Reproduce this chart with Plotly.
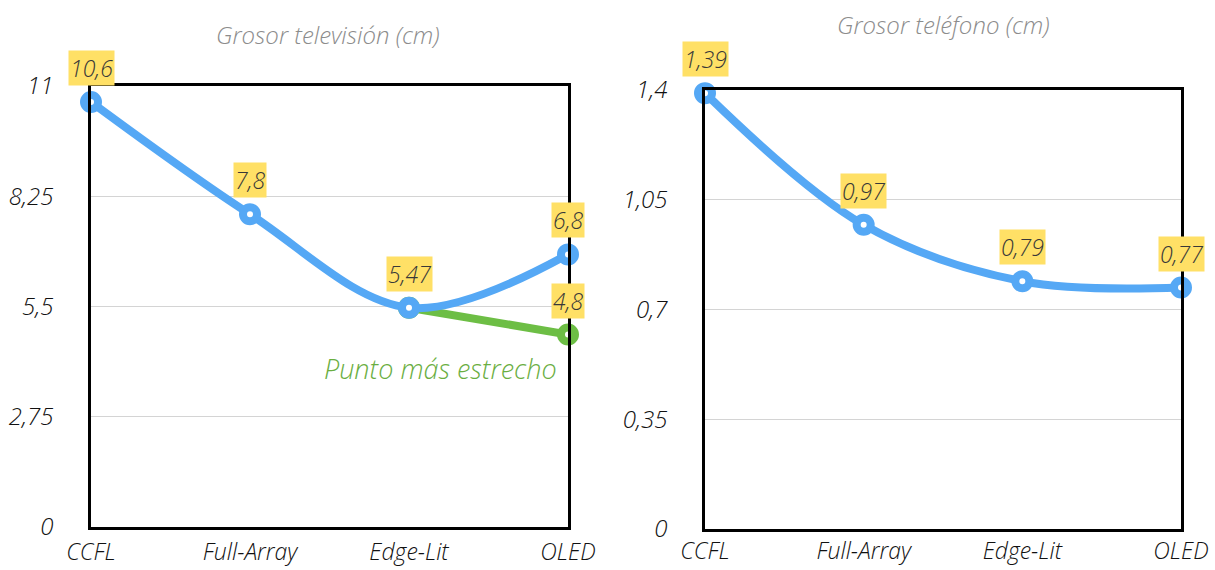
import plotly.graph_objects as go

categories = ["CCFL", "Full-Array", "Edge-Lit", "OLED"]
tv_thickness = [10.6, 7.8, 5.47, 6.8]
tv_narrowest_x = ["Edge-Lit", "OLED"]
tv_narrowest = [5.47, 4.8]
phone_thickness = [1.39, 0.97, 0.79, 0.77]
tv_ticks = [0, 2.75, 5.5, 8.25, 11]
tv_tick_text = ["0", "2,75", "5,5", "8,25", "11"]
phone_ticks = [0, 0.35, 0.7, 1.05, 1.4]
phone_tick_text = ["0", "0,35", "0,7", "1,05", "1,4"]

BLUE = "#55A8F5"
GREEN = "#6DBE45"
FONT = "Open Sans"

xpos = {c: i for i, c in enumerate(categories)}


def fmt(v):
    return f"{v:g}".replace(".", ",")


fig = go.Figure()

# green "narrowest" segment (TV)
fig.add_trace(go.Scatter(
    x=[xpos[c] for c in tv_narrowest_x], y=tv_narrowest, mode="lines+markers",
    line=dict(color=GREEN, width=8),
    marker=dict(size=14, color="white", line=dict(color=GREEN, width=8)),
    cliponaxis=False, xaxis="x", yaxis="y", hoverinfo="skip"))

# TV thickness curve
fig.add_trace(go.Scatter(
    x=list(range(len(categories))), y=tv_thickness, mode="lines+markers",
    line=dict(color=BLUE, width=8, shape="spline", smoothing=1.0),
    marker=dict(size=14, color="white", line=dict(color=BLUE, width=8)),
    cliponaxis=False, xaxis="x", yaxis="y"))

# Phone thickness curve
fig.add_trace(go.Scatter(
    x=list(range(len(categories))), y=phone_thickness, mode="lines+markers",
    line=dict(color=BLUE, width=8, shape="spline", smoothing=1.0),
    marker=dict(size=14, color="white", line=dict(color=BLUE, width=8)),
    cliponaxis=False, xaxis="x2", yaxis="y2"))

label_style = dict(showarrow=False, bgcolor="#FFE066", borderpad=1,
                   xanchor="center", yanchor="middle",
                   font=dict(family=FONT, size=23, color="#383838", style="italic", weight=300),
                   yshift=34)

annotations = []
for i, v in enumerate(tv_thickness):
    annotations.append(dict(x=i, y=v, xref="x", yref="y", text=fmt(v), **label_style))
annotations.append(dict(x=xpos[tv_narrowest_x[-1]], y=tv_narrowest[-1], xref="x", yref="y",
                        text=fmt(tv_narrowest[-1]), **label_style))
for i, v in enumerate(phone_thickness):
    annotations.append(dict(x=i, y=v, xref="x2", yref="y2", text=fmt(v), **label_style))

annotations.append(dict(x=xpos["Edge-Lit"] + 0.2, y=3.95, xref="x", yref="y",
                        text="Punto más estrecho", showarrow=False,
                        xanchor="center", yanchor="middle",
                        font=dict(family=FONT, size=27, color="#6AAE3F", style="italic", weight=300)))

title_font = dict(family=FONT, size=24, color="#8c8c8c", style="italic", weight=300)
annotations.append(dict(x=328 / 1215, y=1 - 35 / 570, xref="paper", yref="paper",
                        xanchor="center", yanchor="middle",
                        text="Grosor televisión (cm)", showarrow=False, font=title_font))
annotations.append(dict(x=943 / 1215, y=1 - 24 / 570, xref="paper", yref="paper",
                        xanchor="center", yanchor="middle",
                        text="Grosor teléfono (cm)", showarrow=False, font=title_font))

tick_font = dict(family=FONT, size=24, color="#111111", style="italic", weight=300)
xtick_font = dict(family=FONT, size=23, color="#111111", style="italic", weight=300)
xaxis_common = dict(range=[0, 3], tickvals=list(range(len(categories))), ticktext=categories,
                    showgrid=False, zeroline=False, showline=True, linecolor="black",
                    linewidth=2.5, mirror=True, ticks="", tickfont=xtick_font,
                    automargin=False, fixedrange=True)
yaxis_common = dict(showgrid=True, gridcolor="#d4d4d4", gridwidth=1, zeroline=False,
                    showline=True, linecolor="black", linewidth=2.5, mirror=True,
                    ticks="", tickfont=tick_font, ticklabelstandoff=30,
                    automargin=False, fixedrange=True)

fig.update_layout(
    width=1215, height=570, margin=dict(l=0, r=0, t=0, b=0),
    paper_bgcolor="white", plot_bgcolor="white", showlegend=False,
    xaxis=dict(domain=[91 / 1215, 568 / 1215], anchor="y", ticklabelstandoff=3,
               **xaxis_common),
    yaxis=dict(domain=[1 - 527 / 570, 1 - 86 / 570], anchor="x", range=[0, 11],
               tickvals=tv_ticks, ticktext=tv_tick_text, **yaxis_common),
    xaxis2=dict(domain=[705 / 1215, 1181 / 1215], anchor="y2", ticklabelstandoff=0,
                **xaxis_common),
    yaxis2=dict(domain=[1 - 529 / 570, 1 - 90 / 570], anchor="x2", range=[0, 1.4],
                tickvals=phone_ticks, ticktext=phone_tick_text, **yaxis_common),
    annotations=annotations,
)

fig.write_html("out.html",
               post_script="document.body.style.margin='0';document.body.style.overflow='hidden';")
